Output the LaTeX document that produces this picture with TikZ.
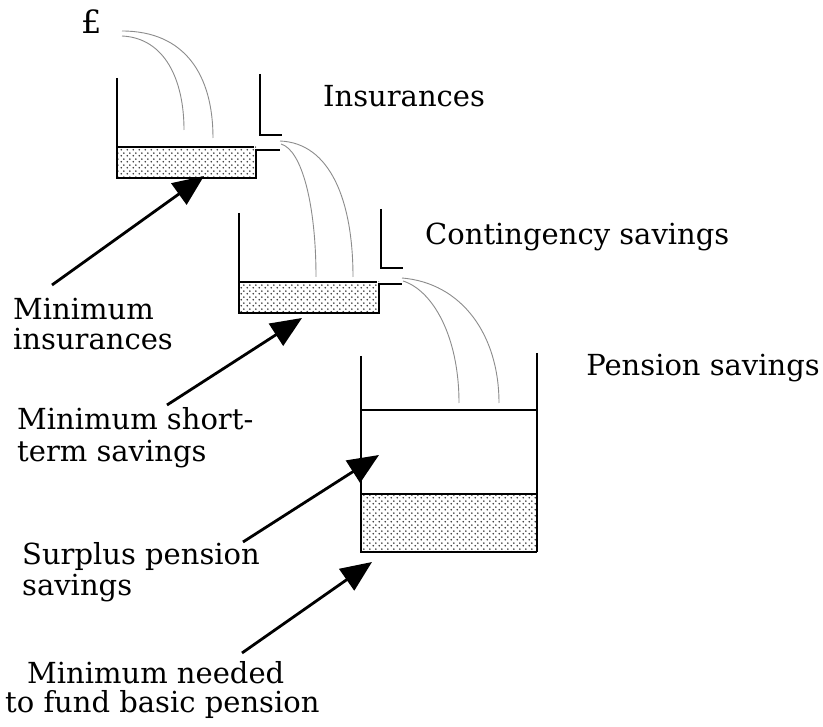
\documentclass[tikz,border=0pt]{standalone}
\usepackage{fontspec}
\setmainfont{DejaVu Serif}
\usetikzlibrary{arrows.meta,patterns.meta}
\tikzdeclarepattern{
  name=sanddots, type=colored,
  bounding box={(0pt,0pt) and (6pt,6pt)},
  tile size={(6pt,6pt)},
  code={\fill[black!80] (1.5pt,1.5pt) circle (1pt);
        \fill[black!80] (4.5pt,4.5pt) circle (1pt);}
}
\tikzset{
  wall/.style={line width=2.8pt, line join=miter},
  level/.style={line width=1.3pt},
  sand/.style={pattern=sanddots},
  flow/.style={draw=black!45, line width=0.9pt},
  pointer/.style={line width=2.8pt, -{Triangle[length=31pt,width=26pt]}},
  lab/.style={font=\fontsize{29}{31}\selectfont, anchor=base west, inner sep=0pt},
}
\begin{document}
\begin{tikzpicture}[x=1pt,y=-1pt]
\useasboundingbox[fill=white] (0,0) rectangle (823,727);

% ---- tank 1 (insurances)
\fill[sand] (117,147) rectangle (256,178);
\draw[level] (117,147) -- (254,147);
\draw[wall] (117,78) -- (117,178) -- (256,178) -- (256,150) -- (280,150);
\draw[wall] (260,74) -- (260,135) -- (282,135);

% ---- tank 2 (contingency)
\fill[sand] (239,282) rectangle (379,313);
\draw[level] (239,282) -- (377,282);
\draw[wall] (239,213) -- (239,313) -- (379,313) -- (379,284) -- (402,284);
\draw[wall] (381,209) -- (381,268) -- (403,268);

% ---- tank 3 (pension)
\fill[sand] (361,494) rectangle (537,552);
\draw[level] (361,494) -- (537,494);
\draw[wall] (361,410) -- (537,410);
\draw[wall] (361,356) -- (361,553);
\draw[wall] (537,353) -- (537,552);
\draw[wall] (361,552) -- (537,552);

% ---- flows
\draw[flow] (122,31) .. controls (185,31) and (213,75) .. (213,138);
\draw[flow] (122,36) .. controls (165,38) and (184,80) .. (184,130);
\draw[flow] (280,141) .. controls (330,143) and (353,200) .. (353,277);
\draw[flow] (281,144) .. controls (302,150) and (316,205) .. (316,277);
\draw[flow] (402,278) .. controls (462,283) and (499,335) .. (499,403);
\draw[flow] (403,281) .. controls (432,290) and (459,335) .. (459,403);

% ---- labels
\node[lab, font=\fontsize{32}{34}\selectfont] (pound) at (81,34) {£};
\node[lab] (ins) at (323,107) {Insurances};
\node[lab] (cont) at (425,245) {Contingency savings};
\node[lab, anchor=base east] (pens) at (820,376) {Pension savings};

\node[lab] (mi1) at (13,320) {Minimum};
\node[lab] (mi2) at (13,350) {insurances};
\node[lab] (ms1) at (17,430) {Minimum short-};
\node[lab] (ms2) at (17,462) {term savings};
\node[lab] (sp1) at (22,565) {Surplus pension};
\node[lab] (sp2) at (22,595) {savings};
\node[lab] (mn1) at (27,683) {Minimum needed};
\node[lab] (mn2) at (5,712) {to fund basic pension};

% ---- pointers
\coordinate (t1) at (52,285);  \coordinate (h1) at (204,176);
\coordinate (t2) at (167,405); \coordinate (h2) at (302,318);
\coordinate (t3) at (243,542); \coordinate (h3) at (379,455);
\coordinate (t4) at (242,653); \coordinate (h4) at (372,562);
\draw[pointer] (t1) -- (h1);
\draw[pointer] (t2) -- (h2);
\draw[pointer] (t3) -- (h3);
\draw[pointer] (t4) -- (h4);
\end{tikzpicture}
\end{document}
